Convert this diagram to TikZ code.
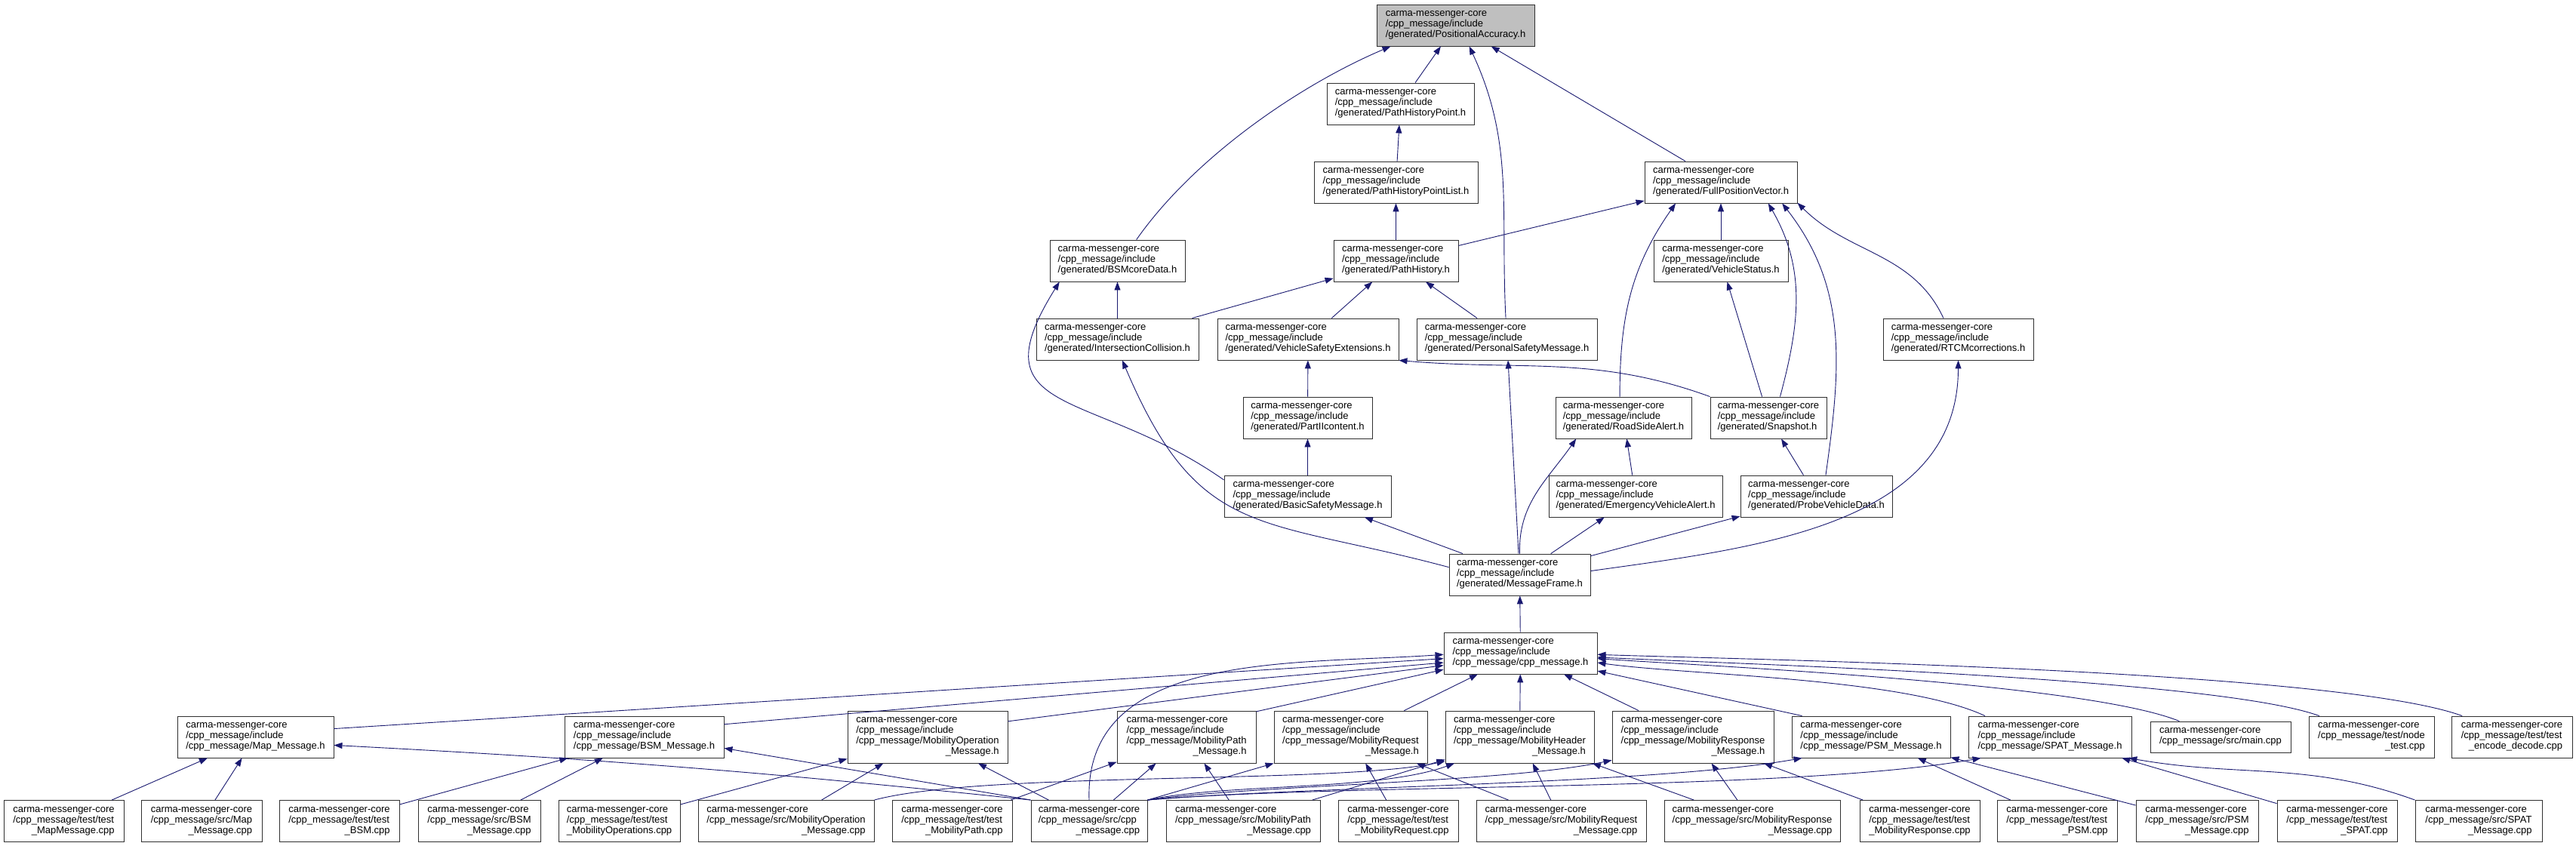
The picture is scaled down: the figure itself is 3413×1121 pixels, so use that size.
\documentclass[tikz,border=0pt]{standalone}
\usepackage{fontspec}
\setmainfont{Liberation Sans}
\usepackage{tikz}
\usetikzlibrary{arrows.meta}
\definecolor{igEdge}{HTML}{191970}
\definecolor{igFocus}{HTML}{BFBFBF}
\definecolor{igBorder}{HTML}{303030}
\newcommand{\cmcore}{carma-messenger-core}
\newcommand{\ctrline}[1]{\hfill#1\hfill}
\newcommand{\genh}[1]{\cmcore\\/cpp\_message/include\\/generated/#1}
\newcommand{\msgh}[1]{\cmcore\\/cpp\_message/include\\/cpp\_message/#1}
\newcommand{\srcf}[2]{\cmcore\\/cpp\_message/#1\\\ctrline{#2}}
\tikzset{
  hfile/.style={
    rectangle, draw=igBorder, line width=0.9pt,
    fill=white, inner sep=0pt,
    minimum width=#1, minimum height=55pt,
    align=left, font=\fontsize{13}{14}\selectfont
  },
  fourline/.style={minimum height=69pt},
  twoline/.style={minimum height=41pt},
  focus/.style={fill=igFocus},
  dep/.style={
    -{Triangle[length=11pt, width=8pt]},
    igEdge, line width=0.9pt
  }
}

\begin{document}
\begin{tikzpicture}[x=1pt, y=-1pt]
      \path[use as bounding box, fill=white] (0,0) rectangle (3413,1121);
      % generated headers
      \node[hfile=209pt, focus] (pa) at (1928.5,33.5) {\genh{PositionalAccuracy.h}};
      \node[hfile=195pt] (phpoint) at (1855.5,137.5) {\genh{PathHistoryPoint.h}};
      \node[hfile=217pt] (phlist) at (1849.5,241.5) {\genh{PathHistoryPointList.h}};
      \node[hfile=202pt] (fpv) at (2280,241.5) {\genh{FullPositionVector.h}};
      \node[hfile=179pt] (bsmcore) at (1480.5,345.5) {\genh{BSMcoreData.h}};
      \node[hfile=165pt] (phist) at (1849.5,345.5) {\genh{PathHistory.h}};
      \node[hfile=178pt] (vstatus) at (2280,345.5) {\genh{VehicleStatus.h}};
      \node[hfile=215pt] (icoll) at (1480.5,449.5) {\genh{IntersectionCollision.h}};
      \node[hfile=240pt] (vse) at (1733,449.5) {\genh{VehicleSafetyExtensions.h}};
      \node[hfile=239pt] (psmsg) at (1996.5,449.5) {\genh{PersonalSafetyMessage.h}};
      \node[hfile=199pt] (rtcm) at (2594.5,449.5) {\genh{RTCMcorrections.h}};
      \node[hfile=171pt] (partii) at (1732.5,553.5) {\genh{PartIIcontent.h}};
      \node[hfile=180pt] (rsa) at (2151,553.5) {\genh{RoadSideAlert.h}};
      \node[hfile=154pt] (snap) at (2343,553.5) {\genh{Snapshot.h}};
      \node[hfile=221pt] (basicsm) at (1732.5,657.5) {\genh{BasicSafetyMessage.h}};
      \node[hfile=230pt] (eva) at (2167,657.5) {\genh{EmergencyVehicleAlert.h}};
      \node[hfile=201pt] (pvd) at (2406.5,657.5) {\genh{ProbeVehicleData.h}};
      \node[hfile=187pt] (mframe) at (2013.5,761.5) {\genh{MessageFrame.h}};
      \node[hfile=203pt] (cpph) at (2014.5,865.5) {\msgh{cpp\_message.h}};
      % message headers and tools
      \node[hfile=207pt] (maph) at (338.5,976.5) {\msgh{Map\_Message.h}};
      \node[hfile=211pt] (bsmh) at (853.5,976.5) {\msgh{BSM\_Message.h}};
      \node[hfile=212pt, fourline] (moh) at (1229,976.5) {\msgh{MobilityOperation}\\\ctrline{\_Message.h}};
      \node[hfile=184pt, fourline] (mph) at (1572,976.5) {\msgh{MobilityPath}\\\ctrline{\_Message.h}};
      \node[hfile=203pt, fourline] (mrh) at (1789.5,976.5) {\msgh{MobilityRequest}\\\ctrline{\_Message.h}};
      \node[hfile=197pt, fourline] (mhh) at (2013.5,976.5) {\msgh{MobilityHeader}\\\ctrline{\_Message.h}};
      \node[hfile=214pt, fourline] (mrsph) at (2243,976.5) {\msgh{MobilityResponse}\\\ctrline{\_Message.h}};
      \node[hfile=210pt] (psmh) at (2479,976.5) {\msgh{PSM\_Message.h}};
      \node[hfile=216pt] (spath) at (2716,976.5) {\msgh{SPAT\_Message.h}};
      \node[hfile=186pt, twoline] (mainc) at (2942,976.5) {\cmcore\\/cpp\_message/src/main.cpp};
      \node[hfile=166pt] (nodet) at (3142,976.5) {\srcf{test/node}{\_test.cpp}};
      \node[hfile=160pt] (encdec) at (3328,976.5) {\srcf{test/test}{\_encode\_decode.cpp}};
      % sources and tests
      \node[hfile=159pt] (tmapc) at (84.5,1088) {\srcf{test/test}{\_MapMessage.cpp}};
      \node[hfile=160pt] (smapc) at (267,1088) {\srcf{src/Map}{\_Message.cpp}};
      \node[hfile=159pt] (tbsmc) at (449.5,1088) {\srcf{test/test}{\_BSM.cpp}};
      \node[hfile=162pt] (sbsmc) at (635,1088) {\srcf{src/BSM}{\_Message.cpp}};
      \node[hfile=161pt] (tmoc) at (820.5,1088) {\srcf{test/test}{\_MobilityOperations.cpp}};
      \node[hfile=233pt] (smoc) at (1041.5,1088) {\srcf{src/MobilityOperation}{\_Message.cpp}};
      \node[hfile=159pt] (tmpc) at (1261.5,1088) {\srcf{test/test}{\_MobilityPath.cpp}};
      \node[hfile=154pt] (scpp) at (1443,1088) {\srcf{src/cpp}{\_message.cpp}};
      \node[hfile=204pt] (smpc) at (1647,1088) {\srcf{src/MobilityPath}{\_Message.cpp}};
      \node[hfile=159pt] (tmrc) at (1852.5,1088) {\srcf{test/test}{\_MobilityRequest.cpp}};
      \node[hfile=225pt] (smrc) at (2068.5,1088) {\srcf{src/MobilityRequest}{\_Message.cpp}};
      \node[hfile=233pt] (smrspc) at (2321.5,1088) {\srcf{src/MobilityResponse}{\_Message.cpp}};
      \node[hfile=159pt] (tmrspc) at (2543.5,1088) {\srcf{test/test}{\_MobilityResponse.cpp}};
      \node[hfile=159pt] (tpsmc) at (2725.5,1088) {\srcf{test/test}{\_PSM.cpp}};
      \node[hfile=162pt] (spsmc) at (2911,1088) {\srcf{src/PSM}{\_Message.cpp}};
      \node[hfile=159pt] (tspatc) at (3096.5,1088) {\srcf{test/test}{\_SPAT.cpp}};
      \node[hfile=168pt] (sspatc) at (3284,1088) {\srcf{src/SPAT}{\_Message.cpp}};
      % upper includes
      \draw[dep] (bsmcore.48) to[out=55, in=203, looseness=0.8] (pa.-162);
      \draw[dep] (phpoint) -- (pa);
      \draw[dep] (psmsg.93) to[out=93, in=-65] (pa.-57);
      \draw[dep] (fpv) -- (pa);
      \draw[dep] (phlist) -- (phpoint);
      \draw[dep] (phist) -- (phlist);
      \draw[dep] (phist) -- (fpv);
      \draw[dep] (rsa.100) to[out=90, in=-125] (fpv.-155);
      \draw[dep] (vstatus) -- (fpv);
      \draw[dep] (snap.61) to[out=75, in=-60] (fpv.-24);
      \draw[dep] (pvd.66) to[out=82, in=-52] (fpv.-19);
      \draw[dep] (rtcm.125) to[out=115, in=-45] (fpv.-15);
      \draw[dep] (icoll) -- (bsmcore);
      \draw[dep] (basicsm.169) to[out=145, in=-122, looseness=1.6] (bsmcore.-160);
      \draw[dep] (icoll) -- (phist);
      \draw[dep] (vse) -- (phist);
      \draw[dep] (psmsg) -- (phist);
      \draw[dep] (snap) -- (vstatus);
      \draw[dep] (snap.north west) to[out=160, in=-5] (vse.south east);
      \draw[dep] (partii) -- (vse);
      \draw[dep] (basicsm) -- (partii);
      \draw[dep] (mframe.174) to[out=165, in=-67, looseness=1.3] (icoll.-77);
      \draw[dep] (mframe) -- (basicsm);
      \draw[dep] (mframe) -- (psmsg);
      \draw[dep] (mframe.90) to[out=92, in=-125] (rsa.-156);
      \draw[dep] (mframe) -- (eva);
      \draw[dep] (mframe) -- (pvd);
      \draw[dep] (mframe.3) to[out=8, in=-90] (rtcm.south);
      \draw[dep] (eva) -- (rsa);
      \draw[dep] (pvd) -- (snap);
      \draw[dep] (cpph) -- (mframe);
      % cpp_message.h includers
      \draw[dep] (scpp.north) to[out=92, in=184] (cpph.181);
      \draw[dep] (maph.6) -- (cpph.184);
      \draw[dep] (bsmh.9) -- (cpph.187);
      \draw[dep] (moh.11) -- (cpph.189);
      \draw[dep] (mph.20) -- (cpph.192);
      \draw[dep] (mrh) -- (cpph);
      \draw[dep] (mhh) -- (cpph);
      \draw[dep] (mrsph) -- (cpph);
      \draw[dep] (psmh.163) -- (cpph.-13);
      \draw[dep] (spath.162) .. controls +(155:121pt) and +(-8:121pt) .. (cpph.-7);
      \draw[dep] (mainc.159) .. controls +(158:136pt) and +(-4:136pt) .. (cpph.-4);
      \draw[dep] (nodet.158) .. controls +(160:150pt) and +(-3:150pt) .. (cpph.-3);
      \draw[dep] (encdec.157) .. controls +(160:180pt) and +(-2:180pt) .. (cpph.-1);
      % lower includes
      \draw[dep] (tmapc) -- (maph);
      \draw[dep] (smapc) -- (maph);
      \draw[dep] (tbsmc) -- (bsmh);
      \draw[dep] (sbsmc) -- (bsmh);
      \draw[dep] (tmoc) -- (moh);
      \draw[dep] (smoc) -- (moh);
      \draw[dep] (smoc.north east) .. controls +(15:148pt) and +(-168:148pt) .. (mhh.-162);
      \draw[dep] (tmpc) -- (mph);
      \draw[dep] (smpc) -- (mph);
      \draw[dep] (smpc) -- (mhh);
      \draw[dep] (tmrc) -- (mrh);
      \draw[dep] (smrc) -- (mrh);
      \draw[dep] (smrc) -- (mhh);
      \draw[dep] (smrspc) -- (mrsph);
      \draw[dep] (smrspc) -- (mhh);
      \draw[dep] (tmrspc) -- (mrsph);
      \draw[dep] (tpsmc) -- (psmh);
      \draw[dep] (spsmc) -- (psmh);
      \draw[dep] (tspatc) -- (spath);
      \draw[dep] (sspatc.north west) .. controls +(160:150pt) and +(-10:150pt) .. (spath.-15);
      \draw[dep] (scpp.north west) .. controls +(174:361pt) and +(-3:361pt) .. (maph.-6);
      \draw[dep] (scpp.north west) -- (bsmh.-8);
      \draw[dep] (scpp) -- (moh);
      \draw[dep] (scpp) -- (mph);
      \draw[dep] (scpp.north east) -- (mrh.south west);
      \draw[dep] (scpp.north east) .. controls +(12:108pt) and +(-160:108pt) .. (mhh.-158);
      \draw[dep] (scpp.north east) .. controls +(8:143pt) and +(-168:143pt) .. (mrsph.-164);
      \draw[dep] (scpp.north east) .. controls +(5:204pt) and +(-170:204pt) .. (psmh.-163);
      \draw[dep] (scpp.north east) .. controls +(5:260pt) and +(-170:260pt) .. (spath.-163);
    \end{tikzpicture}
\end{document}
